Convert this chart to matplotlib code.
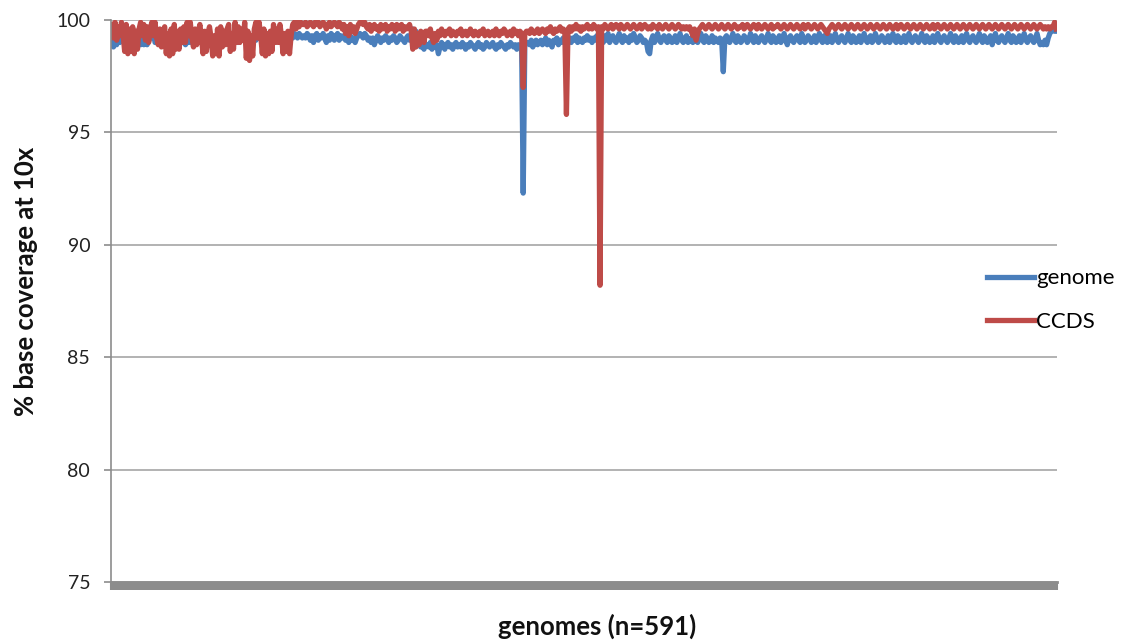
import matplotlib
matplotlib.use('Agg')
import matplotlib.pyplot as plt
import numpy as np

plt.rcParams['font.family'] = ['Lato', 'DejaVu Sans']

# ---- data (591 genomes, % of bases covered at 10x) ----
# genomes 1-120: noisy start
genome_a = [99.3, 98.8, 99.2, 98.9, 99.4, 99.0, 99.3, 99.1, 99.2, 98.9,
            99.3, 99.0, 99.2, 98.9, 98.9, 99.1, 98.8, 99.0, 98.9, 99.2,
            98.9, 99.0, 98.9, 99.1, 99.3, 99.2, 99.4, 99.0, 99.0, 99.1,
            98.9, 99.2, 99.3, 99.1, 99.2, 98.9, 99.3, 99.0, 99.2, 99.3,
            99.1, 99.2, 99.0, 99.3, 99.1, 99.0, 98.9, 99.1, 99.0, 99.1,
            99.0, 99.2, 99.3, 99.1, 99.2, 99.4, 99.1, 98.9, 99.2, 99.0,
            99.3, 99.1, 99.2, 99.0, 99.1, 99.3, 98.9, 99.0, 99.1, 99.0,
            99.1, 99.3, 99.2, 99.4, 99.0, 99.2, 99.1, 99.3, 99.2, 99.0,
            99.3, 99.1, 99.2, 99.3, 98.9, 99.2, 99.0, 99.1, 98.9, 99.2,
            99.1, 99.3, 99.2, 99.4, 99.0, 99.2, 98.9, 99.1, 99.0, 99.2,
            99.0, 99.1, 99.0, 99.3, 99.1, 99.4, 99.2, 99.0, 99.1, 98.9,
            99.2, 99.0, 99.3, 99.2, 99.4, 99.3, 99.2, 99.4, 99.3, 99.2]
ccds_a = [99.8, 99.2, 99.9, 99.1, 99.7, 99.3, 99.9, 99.4,
          98.6, 99.8, 98.5, 99.6, 98.6, 99.7, 98.5, 99.5, 98.7,
          99.6, 99.9, 99.3, 99.8,
          99.1, 99.7, 99.0, 99.6,
          99.9, 99.3, 99.9, 99.2,
          98.9, 99.6, 98.8, 99.5, 99.7,
          98.5, 99.4, 98.4, 99.6, 98.5, 99.8,
          98.7, 99.5, 98.7, 99.6,
          99.0, 99.7, 99.0,
          99.9, 99.3, 99.9, 99.2,
          98.8, 99.6, 98.9, 99.5, 99.8, 99.2,
          98.5, 99.5, 98.6, 99.4, 99.7, 99.2,
          98.4, 99.3, 98.5, 99.6, 98.4, 99.7,
          98.8, 99.5, 98.9, 99.6, 99.8,
          98.6, 99.4, 98.7, 99.9,
          99.0, 99.7, 99.0, 99.6, 99.1, 99.9,
          98.3, 99.5, 98.2, 99.3, 98.4, 99.6,
          99.9, 99.2, 99.9, 99.3,
          98.5, 99.6, 98.4, 99.4, 98.5, 99.5, 98.6, 99.8,
          99.0, 99.6, 99.0, 99.8, 99.3,
          98.5, 99.4, 98.6, 99.5, 98.5, 99.3,
          99.8, 99.9, 99.6, 99.9, 99.7, 99.9, 99.8]

# genomes 121-146
genome_b = [99.3, 99.2, 99.4, 99.3, 99.1, 99.3, 99.0, 99.3, 99.4, 99.1,
            99.3, 99.2, 99.4, 99.2, 99.0, 99.3, 99.1, 99.4, 99.3, 99.1,
            99.3, 99.4, 99.1, 99.3, 99.2, 99.3]
ccds_b = [99.8, 99.9, 99.7, 99.8, 99.9, 99.8, 99.7, 99.9, 99.8, 99.9,
          99.7, 99.8, 99.9, 99.8, 99.6, 99.8, 99.9, 99.7, 99.8, 99.9,
          99.8, 99.7, 99.9, 99.8, 99.6, 99.8]

# genomes 147-197
genome_c = [99.1, 99.2, 99.0, 99.3, 99.1, 99.2, 99.0, 99.2, 99.3, 99.4,
            99.3, 99.2, 99.4, 99.3, 99.1, 99.2, 99.0, 99.2, 98.9, 99.1,
            99.3, 99.2, 99.0, 99.2, 99.1, 99.3, 99.2, 99.0, 99.2, 99.1,
            99.3, 99.2, 99.0, 99.1, 99.3, 99.2, 99.1, 99.0, 99.2, 99.3,
            99.1, 99.2,
            99.6, 99.2, 99.5, 99.0, 98.9, 98.8, 99.0, 98.7, 98.9]
ccds_c = [99.4, 99.7, 99.3, 99.8, 99.5, 99.7, 99.4, 99.6, 99.8, 99.9,
          99.9, 99.8, 99.9, 99.7, 99.6, 99.8, 99.5, 99.7, 99.8, 99.6,
          99.7, 99.5, 99.8, 99.6, 99.7, 99.8, 99.5, 99.7, 99.6, 99.8,
          99.7, 99.5, 99.8, 99.6, 99.7, 99.8, 99.5, 99.7, 99.6, 99.7,
          99.8, 99.5,
          98.7, 99.6, 98.8, 99.4, 98.9, 99.5, 99.3, 99.0, 99.5]

# genomes 198-256
genome_d = [98.9, 98.8, 99.0, 98.7, 98.9, 98.8, 98.9, 98.5, 98.8, 99.0,
            98.9, 98.7, 98.9, 99.0, 98.8, 98.9, 98.7, 98.9, 99.0, 98.8,
            98.9, 98.8, 99.0, 98.9, 98.7, 98.9, 98.8, 99.0, 98.9, 98.8,
            98.7, 98.9, 99.0, 98.8, 98.9, 98.7, 98.8, 99.0, 98.9, 98.8,
            98.9, 99.0, 98.8, 98.7, 98.9, 98.8, 99.0, 98.9, 98.8, 98.7,
            98.9, 98.8, 99.0, 98.9, 98.8, 98.9, 98.7, 98.9, 98.8]
ccds_d = [99.5, 99.3, 99.6, 99.2, 99.0, 99.4, 99.1, 99.5, 99.3, 99.6,
          99.4, 99.3, 99.5, 99.4, 99.6, 99.3, 99.5, 99.4, 99.3, 99.5,
          99.4, 99.6, 99.3, 99.4, 99.5, 99.3, 99.4, 99.6, 99.4, 99.3,
          99.5, 99.4, 99.3, 99.5, 99.4, 99.6, 99.3, 99.4, 99.5, 99.3,
          99.4, 99.5, 99.3, 99.6, 99.4, 99.3, 99.5, 99.4, 99.6, 99.5,
          99.3, 99.4, 99.5, 99.3, 99.6, 99.4, 99.5, 99.3, 99.5]

# genomes 257-306, with the three deep dips
genome_e = [98.9, 92.3, 98.9, 99.0,
            99.0, 98.9, 99.1, 98.8, 99.0, 99.1, 98.9, 99.0, 99.1, 98.9,
            99.0, 99.2, 98.9, 99.1, 99.0, 98.8, 99.1, 99.0, 99.2, 98.9,
            99.1, 99.0, 99.2, 99.1,
            99.1,
            99.1, 99.2, 99.0, 99.2, 99.1, 99.3, 99.0, 99.2, 99.1, 99.0,
            99.2, 99.1, 99.3, 99.1, 99.2, 99.0, 99.2, 99.1, 99.3, 99.2,
            99.2]
ccds_e = [99.4, 97.0, 99.4, 99.5,
          99.5, 99.4, 99.6, 99.5, 99.4, 99.5, 99.6, 99.4, 99.5, 99.6,
          99.5, 99.4, 99.6, 99.5, 99.7, 99.5, 99.4, 99.6, 99.5, 99.6,
          99.7, 99.5, 99.6, 99.5,
          95.8,
          99.6, 99.7, 99.5, 99.7, 99.6, 99.8, 99.6, 99.7, 99.5, 99.7,
          99.6, 99.7, 99.8, 99.6, 99.7, 99.6, 99.8, 99.7, 99.6, 99.7,
          88.2]

# genomes 307-591
genome_f = [99.2, 99.0, 99.3, 99.1, 99.4, 99.0, 99.2, 99.3, 99.1, 99.0, 99.2, 99.4, 99.1, 99.0, 99.3,
            99.1, 99.2, 99.0, 99.3, 99.1, 99.4, 99.2, 99.0, 99.1, 99.3, 99.2, 99.0, 99.1, 99.0, 98.6,
            98.5, 99.1, 99.3, 99.0, 99.2, 99.4, 99.1, 99.0, 99.2, 99.3, 99.1, 99.0, 99.3, 99.2, 99.0,
            99.1, 99.3, 99.0, 99.2, 99.4, 99.1, 99.0, 99.2, 99.3, 99.0, 99.1, 99.2, 99.0, 99.3, 99.1,
            99.0, 99.2, 99.4, 99.1, 99.0, 99.3, 99.2, 99.0, 99.1, 99.3, 99.0, 99.2, 99.1, 99.0, 99.2,
            99.1, 97.7, 99.2, 99.3, 99.1, 99.0, 99.2, 99.4, 99.1, 99.0, 99.3, 99.2, 99.0, 99.1, 99.3,
            99.2, 99.0, 99.1, 99.4, 99.2, 99.0, 99.3, 99.1, 99.0, 99.2, 99.3, 99.1, 99.0, 99.2, 99.4,
            99.1, 99.0, 99.3, 99.2, 99.0, 99.1, 99.3, 99.0, 99.2, 99.4, 99.1, 98.9, 99.2, 99.3, 99.1,
            99.0, 99.2, 99.3, 99.1, 99.0, 99.4, 99.2, 99.0, 99.1, 99.3, 99.2, 99.0, 99.1, 99.3, 99.0,
            99.2, 99.4, 99.1, 99.0, 99.3, 99.2, 99.0, 99.1, 99.3, 99.0, 99.2, 99.4, 99.1, 99.0, 99.2,
            99.3, 99.1, 99.0, 99.2, 99.4, 99.1, 99.0, 99.3, 99.2, 99.0, 99.1, 99.3, 99.0, 99.2, 99.4,
            99.1, 99.0, 99.2, 99.3, 99.0, 99.1, 99.4, 99.2, 99.0, 99.1, 99.3, 99.2, 99.0, 99.1, 99.3,
            99.0, 99.2, 99.4, 99.1, 99.0, 99.3, 99.2, 99.0, 99.1, 99.3, 99.0, 99.2, 99.4, 99.1, 99.0,
            99.2, 99.3, 99.1, 99.0, 99.2, 99.4, 99.1, 99.0, 99.3, 99.2, 99.0, 99.1, 99.3, 99.0, 99.2,
            99.4, 99.1, 99.0, 99.2, 99.3, 99.1, 99.0, 99.2, 99.4, 99.1, 99.0, 99.3, 99.2, 99.0, 99.1,
            99.3, 99.0, 99.2, 99.4, 99.1, 99.0, 99.2, 99.3, 99.1, 99.0, 99.2, 99.4, 99.1, 99.0, 99.3,
            99.2, 99.0, 99.1, 99.3, 98.9, 99.2, 99.4, 99.1, 99.0, 99.2, 99.3, 99.1, 99.0, 99.2, 99.4,
            99.1, 99.0, 99.3, 99.2, 99.0, 99.1, 99.3, 99.0, 99.2, 99.4, 99.1, 99.0, 99.2, 99.3, 99.1,
            99.0, 99.2, 99.4, 99.1, 98.9, 99.0, 98.9, 99.1, 98.9, 99.2, 99.4, 99.5, 99.6, 99.5, 99.5]
ccds_f = [99.7, 99.6, 99.8, 99.7, 99.6, 99.7, 99.8, 99.6, 99.7, 99.8, 99.7, 99.6, 99.8, 99.7, 99.6,
          99.7, 99.8, 99.7, 99.6, 99.7, 99.8, 99.7, 99.6, 99.7, 99.8, 99.6, 99.7, 99.8, 99.7, 99.6,
          99.7, 99.6, 99.8, 99.7, 99.7, 99.6, 99.8, 99.7, 99.6, 99.7, 99.8, 99.7, 99.6, 99.7, 99.8,
          99.7, 99.6, 99.7, 99.8, 99.7, 99.6, 99.7, 99.6, 99.7, 99.6, 99.7, 99.5, 99.3, 99.6, 99.1,
          99.4, 99.6, 99.7, 99.8, 99.7, 99.6, 99.7, 99.8, 99.7, 99.6, 99.7, 99.8, 99.7, 99.6, 99.7,
          99.8, 99.7, 99.6, 99.7, 99.8, 99.7, 99.6, 99.7, 99.8, 99.7, 99.6, 99.7, 99.7, 99.8, 99.6,
          99.7, 99.8, 99.7, 99.6, 99.7, 99.8, 99.7, 99.6, 99.8, 99.7, 99.6, 99.7, 99.8, 99.7, 99.6,
          99.7, 99.8, 99.6, 99.7, 99.7, 99.8, 99.7, 99.6, 99.7, 99.8, 99.7, 99.6, 99.7, 99.8, 99.7,
          99.6, 99.7, 99.8, 99.7, 99.6, 99.7, 99.8, 99.6, 99.7, 99.8, 99.7, 99.6, 99.7, 99.8, 99.7,
          99.6, 99.7, 99.8, 99.7, 99.6, 99.5, 99.4, 99.6, 99.7, 99.8, 99.7, 99.6, 99.7, 99.8, 99.7,
          99.6, 99.7, 99.8, 99.7, 99.6, 99.7, 99.8, 99.7, 99.6, 99.7, 99.8, 99.7, 99.6, 99.7, 99.8,
          99.7, 99.6, 99.7, 99.8, 99.7, 99.6, 99.7, 99.8, 99.7, 99.6, 99.7, 99.8, 99.7, 99.6, 99.7,
          99.8, 99.7, 99.6, 99.7, 99.8, 99.6, 99.7, 99.8, 99.7, 99.6, 99.7, 99.8, 99.7, 99.6, 99.7,
          99.8, 99.7, 99.6, 99.7, 99.8, 99.7, 99.6, 99.7, 99.8, 99.7, 99.6, 99.7, 99.8, 99.6, 99.7,
          99.8, 99.7, 99.6, 99.7, 99.8, 99.7, 99.6, 99.7, 99.8, 99.7, 99.6, 99.7, 99.8, 99.7, 99.6,
          99.7, 99.8, 99.7, 99.6, 99.7, 99.8, 99.7, 99.6, 99.7, 99.8, 99.7, 99.6, 99.7, 99.8, 99.7,
          99.6, 99.7, 99.8, 99.7, 99.6, 99.7, 99.8, 99.7, 99.6, 99.7, 99.8, 99.7, 99.6, 99.7, 99.8,
          99.7, 99.6, 99.7, 99.8, 99.7, 99.6, 99.7, 99.8, 99.7, 99.6, 99.7, 99.8, 99.7, 99.6, 99.7,
          99.8, 99.7, 99.6, 99.7, 99.8, 99.7, 99.6, 99.7, 99.6, 99.7, 99.6, 99.7, 99.7, 99.9, 99.6]

genome = genome_a + genome_b + genome_c + genome_d + genome_e + genome_f
ccds = ccds_a + ccds_b + ccds_c + ccds_d + ccds_e + ccds_f
n_genomes = len(genome)
assert n_genomes == len(ccds) == 591

y_ticks = [75, 80, 85, 90, 95, 100]

colors = {'genome': '#4a7ebb', 'CCDS': '#be4b48'}
grey = '#8c8c8c'

fig = plt.figure(figsize=(11.24, 6.43), dpi=100)
ax = fig.add_axes([0.0988, 0.0949, 0.8416, 0.874])

x = np.arange(1, n_genomes + 1)
ax.plot(x, genome, color=colors['genome'], lw=3.8, label='genome', solid_joinstyle='round')
ax.plot(x, ccds, color=colors['CCDS'], lw=3.8, label='CCDS', solid_joinstyle='round')

ax.set_xlim(0.5, n_genomes + 0.5)
ax.set_ylim(75, 100)
ax.set_yticks(y_ticks)
ax.set_yticklabels([str(t) for t in y_ticks])

# one tick mark per category, they merge into the thick grey band
ax.set_xticks(np.arange(0.5, n_genomes + 1, 1))
ax.set_xticklabels([])
ax.tick_params(axis='x', direction='out', length=5.5, width=1.5, color=grey)
ax.tick_params(axis='y', direction='out', length=5, width=1.2, color=grey,
               labelsize=14, labelcolor='#222222', pad=10)

ax.grid(axis='y', color='#a6a6a6', linewidth=1.2)
ax.set_axisbelow(True)
for side in ['top', 'right']:
    ax.spines[side].set_visible(False)
ax.spines['left'].set_color(grey)
ax.spines['left'].set_linewidth(1.2)
ax.spines['bottom'].set_color(grey)
ax.spines['bottom'].set_linewidth(2)

fig.text(0.023, 0.563, '% base coverage at 10x', rotation=90, ha='center', va='center',
         fontsize=18.5, fontweight='bold', color='#111111')
fig.text(0.531, 0.026, 'genomes (n=591)', ha='center', va='center',
         fontsize=18.5, fontweight='bold', color='#111111')

fig.legend(loc='center left', bbox_to_anchor=(0.878, 0.5334), frameon=False,
           fontsize=16, handlelength=2.1, handletextpad=0.1, labelspacing=1.05,
           borderpad=0, borderaxespad=0)

fig.savefig('out.png', dpi=100)
